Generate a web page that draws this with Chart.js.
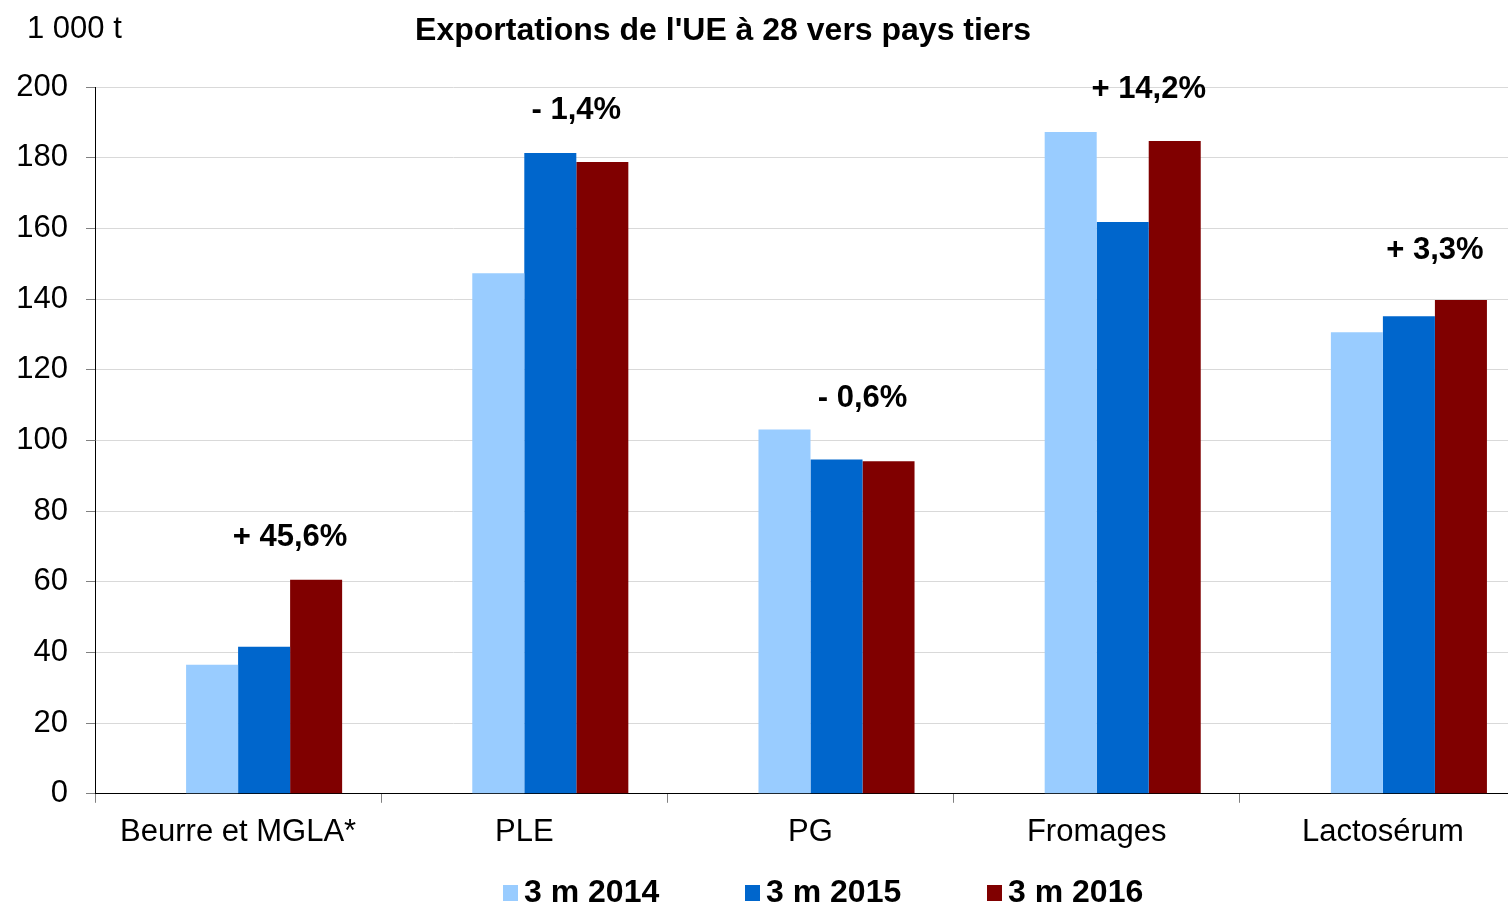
<!DOCTYPE html>
<html>
<head>
<meta charset="utf-8">
<script src="https://cdn.jsdelivr.net/npm/chart.js@4.4.1/dist/chart.umd.min.js"></script>
<style>
  html, body { margin: 0; background: #fff; overflow: hidden; }
</style>
</head>
<body>
<canvas id="bar-chart" width="1526" height="906"></canvas>
<script>
var categories = ["Beurre et MGLA*", "PLE", "PG", "Fromages", "Lactosérum"];
var seriesNames = ["3 m 2014", "3 m 2015", "3 m 2016"];
var values2014 = [36.5, 147.3, 103.1, 187.3, 130.6];
var values2015 = [41.6, 181.3, 94.6, 161.8, 135.1];
var values2016 = [60.6, 178.8, 94.1, 184.7, 139.7];
var changeLabels = ["+ 45,6%", "- 1,4%", "- 0,6%", "+ 14,2%", "+ 3,3%"];
// height (in axis units) where each change label sits
var changeLabelAt = [72.5, 193.5, 111.9, 199.2, 153.8];
var yTicks = [0, 20, 40, 60, 80, 100, 120, 140, 160, 180, 200];

var colors = ["#99CCFF", "#0066CC", "#800000"];
var FONT = "'Liberation Sans', Arial, sans-serif";

Chart.defaults.font.family = FONT;
Chart.defaults.font.size = 31;
Chart.defaults.color = "#000";

/** texts drawn by hand: unit, title, change labels, legend */
var extras = {
  id: 'extras',
  afterDraw: function (chart) {
    var ctx = chart.ctx;
    var y = chart.scales.y;
    ctx.save();
    ctx.fillStyle = "#000";
    ctx.textBaseline = "middle";

    ctx.font = "31px " + FONT;
    ctx.textAlign = "left";
    ctx.fillText("1 000 t", 27, 29);

    ctx.font = "bold 32px " + FONT;
    ctx.textAlign = "center";
    ctx.fillText("Exportations de l'UE à 28 vers pays tiers", 723, 31);

    // change labels, centred on the 2015/2016 bar boundary
    ctx.font = "bold 31px " + FONT;
    var m15 = chart.getDatasetMeta(2), m16 = chart.getDatasetMeta(3);
    changeLabels.forEach(function (txt, i) {
      var bx = (m15.data[i].x + m16.data[i].x) / 2;
      ctx.fillText(txt, bx, y.getPixelForValue(changeLabelAt[i]));
    });

    // legend
    ctx.font = "bold 32px " + FONT;
    ctx.textAlign = "left";
    var x = 503, ly = 893;
    seriesNames.forEach(function (name, i) {
      ctx.fillStyle = colors[i];
      ctx.fillRect(x, ly - 8, 15, 16);
      ctx.fillStyle = "#000";
      ctx.fillText(name, x + 21, ly);
      x += 242;
    });
    ctx.restore();
  }
};

new Chart(document.getElementById("bar-chart"), {
  type: 'bar',
  data: {
    labels: categories,
    datasets: [
      { label: "", data: categories.map(function () { return null; }), backgroundColor: "rgba(0,0,0,0)" },
      { label: seriesNames[0], data: values2014, backgroundColor: colors[0] },
      { label: seriesNames[1], data: values2015, backgroundColor: colors[1] },
      { label: seriesNames[2], data: values2016, backgroundColor: colors[2] }
    ]
  },
  options: {
    responsive: false,
    animation: false,
    categoryPercentage: 0.727,
    barPercentage: 1.0,
    layout: { padding: { top: 87, right: 0, bottom: 44, left: 0 } },
    plugins: {
      legend: { display: false },
      title: { display: false },
      tooltip: { enabled: false }
    },
    scales: {
      x: {
        offset: true,
        grid: { offset: true, drawOnChartArea: false, tickLength: 9, tickColor: "#808080" },
        border: { color: "#000", width: 1 },
        ticks: { padding: 11, maxRotation: 0, font: { size: 31 } }
      },
      y: {
        min: 0,
        max: 200,
        afterBuildTicks: function (scale) {
          scale.ticks = yTicks.map(function (v) { return { value: v }; });
        },
        afterFit: function (scale) { scale.width = 95; },
        grid: { color: "#D9D9D9", tickLength: 9, tickColor: "#808080" },
        border: { color: "#000", width: 1 },
        ticks: { padding: 18, font: { size: 31 } }
      }
    }
  },
  plugins: [extras]
});
</script>
</body>
</html>
